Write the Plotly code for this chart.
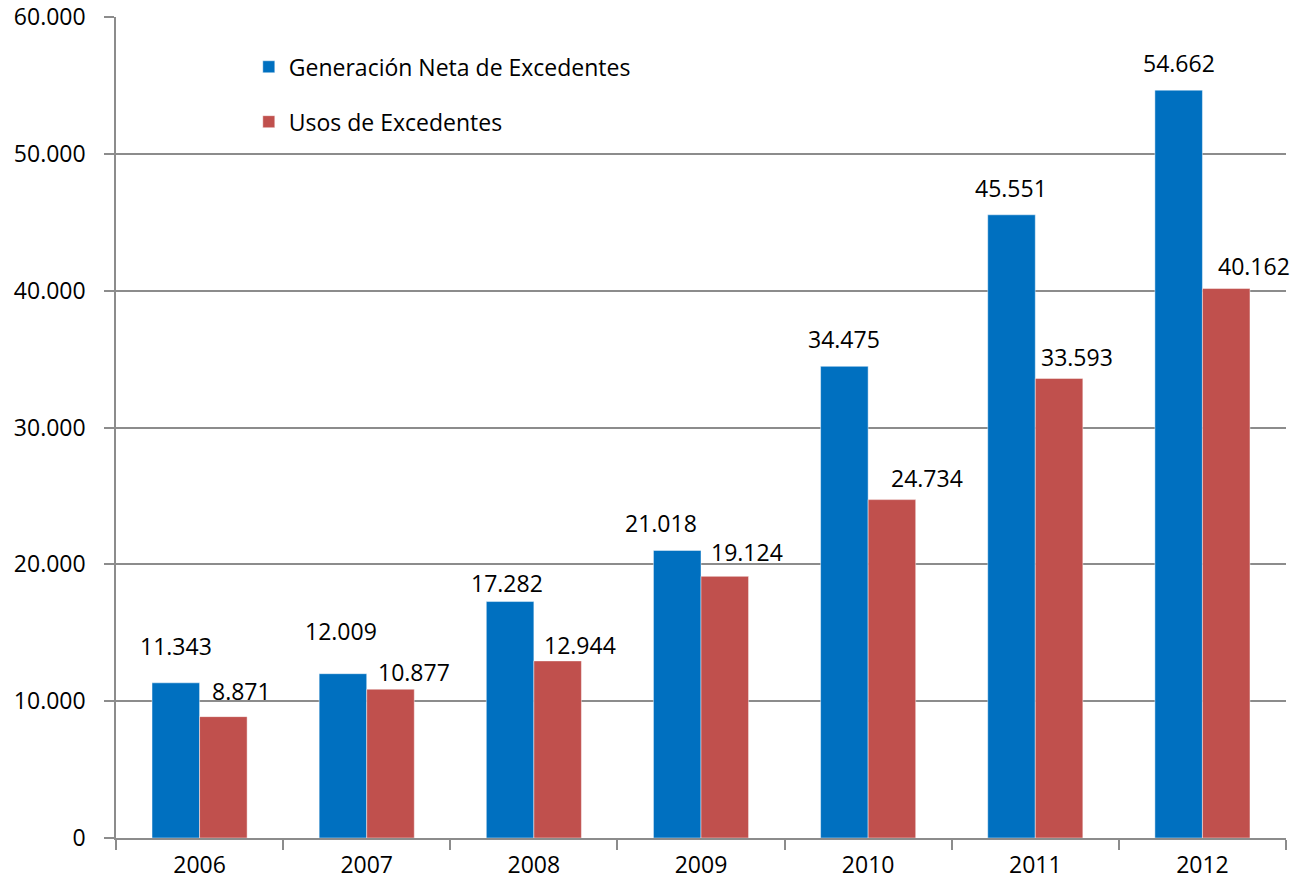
import plotly.graph_objects as go

years = ["2006", "2007", "2008", "2009", "2010", "2011", "2012"]
generacion = [11343, 12009, 17282, 21018, 34475, 45551, 54662]
usos = [8871, 10877, 12944, 19124, 24734, 33593, 40162]
serie_gen = "Generación Neta de Excedentes"
serie_usos = "Usos de Excedentes"

# label placement tweaks (pixels): horizontal shift, distance above bar top
gen_label_dx = [0, -2, -3, -16, 0, -1, 0]
gen_label_dy = [37, 43, 19, 27, 27, 27, 27]
usos_label_dx = [18, 24, 22, 22, 35, 18, 28]
usos_label_dy = [26, 17, 16, 24, 22, 21, 23]

BLUE = "#0070C0"
RED = "#C0504D"
GRID = "#8c8c8c"
FONT = "Open Sans"
FS = 23

W, H = 1296, 882
ML, MR, MT, MB = 116, 10, 17, 44
BARGAP = 0.431
plot_w = W - ML - MR
half_bar = plot_w / len(years) * (1 - BARGAP) / 4

fig = go.Figure()
fig.add_trace(go.Bar(x=years, y=generacion, name=serie_gen, legendgroup="g",
                     marker=dict(color=BLUE, line=dict(color="rgba(255,255,255,0.45)", width=1))))
fig.add_trace(go.Bar(x=years, y=usos, name=serie_usos, legendgroup="u",
                     marker=dict(color=RED, line=dict(color="rgba(255,255,255,0.45)", width=1))))


def fmt(v):
    return f"{v:,}".replace(",", ".")


annotations = []
for i, yr in enumerate(years):
    annotations.append(dict(x=i, y=generacion[i], xref="x", yref="y", text=fmt(generacion[i]),
                            showarrow=False, xanchor="center", yanchor="middle",
                            xshift=-half_bar + gen_label_dx[i], yshift=gen_label_dy[i],
                            font=dict(family=FONT, size=FS, color="#000")))
    annotations.append(dict(x=i, y=usos[i], xref="x", yref="y", text=fmt(usos[i]),
                            showarrow=False, xanchor="center", yanchor="middle",
                            xshift=half_bar + usos_label_dx[i], yshift=usos_label_dy[i],
                            font=dict(family=FONT, size=FS, color="#000")))

fig.update_layout(
    width=W, height=H,
    margin=dict(l=ML, r=MR, t=MT, b=MB, autoexpand=False),
    paper_bgcolor="white", plot_bgcolor="white",
    barmode="group", bargap=BARGAP, bargroupgap=0,
    separators=",.",
    font=dict(family=FONT, size=FS, color="#000"),
    showlegend=True,
    legend=dict(x=0.1135, y=0.9655, xanchor="left", yanchor="top",
                bgcolor="rgba(0,0,0,0)", tracegroupgap=22,
                font=dict(family=FONT, size=FS, color="#000")),
    annotations=annotations,
)
fig.update_xaxes(type="category", tickson="boundaries", ticks="outside", ticklen=10,
                 tickcolor=GRID, tickwidth=1.5, showline=True, linecolor=GRID, linewidth=1.5,
                 showgrid=False, ticklabelstandoff=6, tickangle=0, automargin=False,
                 range=[-0.5, len(years) - 0.5],
                 tickfont=dict(family=FONT, size=FS, color="#000"))
fig.update_yaxes(range=[0, 60010], tickvals=[0, 10000, 20000, 30000, 40000, 50000, 60000],
                 tickformat=",d", ticks="outside", ticklen=10, ticklabeloverflow="allow",
                 tickcolor=GRID, tickwidth=1.5, showline=True, linecolor=GRID, linewidth=1.5,
                 showgrid=True, gridcolor=GRID, gridwidth=1.5, zeroline=False,
                 ticklabelstandoff=14, automargin=False,
                 tickfont=dict(family=FONT, size=FS, color="#000"))

fig.write_html("out.html", config={"displayModeBar": False},
               post_script="document.body.style.margin='0';document.body.style.overflow='hidden';")
